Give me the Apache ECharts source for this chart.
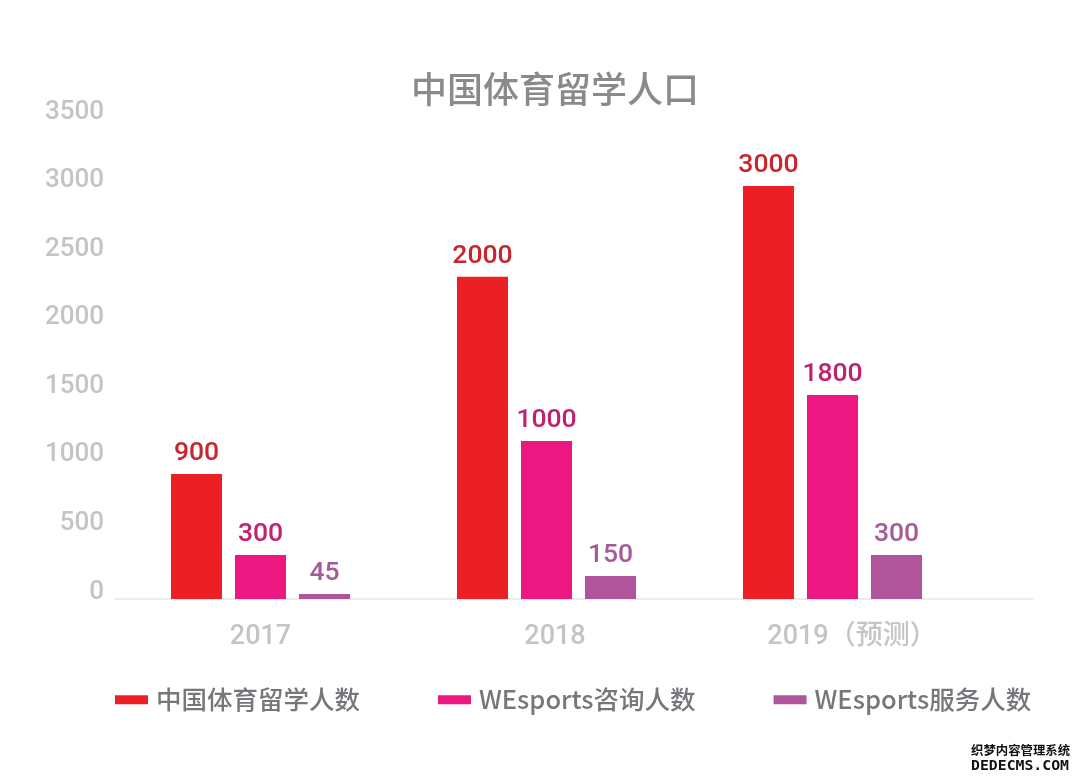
<!DOCTYPE html>
<html>
<head>
<meta charset="utf-8">
<style>html,body{margin:0;padding:0;background:#fff}#main{width:1080px;height:780px}</style>
<script src="https://cdn.jsdelivr.net/npm/echarts@6/dist/echarts.min.js"></script>
</head>
<body>
<div id="main"></div>
<script>
const years = ['2017', '2018', '2019（预测）'];
const yTicks = [0, 500, 1000, 1500, 2000, 2500, 3000, 3500];
const seriesNames = ['中国体育留学人数', 'WEsports咨询人数', 'WEsports服务人数'];

// bar heights as drawn in the picture (they do not always follow the printed numbers)
const studyAbroad = [912, 2349, 3012];
const consult = [321, 1152, 1488];
const service = [36, 168, 321];

// numbers printed above the bars
const studyAbroadLabels = ['900', '2000', '3000'];
const consultLabels = ['300', '1000', '1800'];
const serviceLabels = ['45', '150', '300'];

const numFont = 'Roboto, "Noto Sans CJK SC", sans-serif';
const cjkFont = '"Noto Sans CJK SC", sans-serif';

function barSeries(name, values, labels, color, labelColor) {
  return {
    name: name,
    type: 'bar',
    xAxisIndex: 1,
    yAxisIndex: 1,
    barWidth: 51,
    barGap: '25.5%',
    data: values,
    itemStyle: { color: color },
    label: {
      show: true,
      position: 'top',
      distance: 7,
      color: labelColor,
      fontFamily: numFont,
      fontSize: 26.5,
      fontWeight: 500,
      formatter: function (p) { return labels[p.dataIndex]; }
    }
  };
}

const chart = echarts.init(document.getElementById('main'));
chart.setOption({
  backgroundColor: '#fff',
  animation: false,
  title: {
    text: '中国体育留学人口',
    left: 406,
    top: 66,
    textStyle: { color: '#8a8a8c', fontFamily: cjkFont, fontSize: 36, fontWeight: 500 }
  },
  legend: {
    left: 110,
    top: 682,
    icon: 'rect',
    itemWidth: 33,
    itemHeight: 9,
    itemGap: 78,
    data: seriesNames,
    textStyle: { color: '#77777b', fontFamily: cjkFont, fontSize: 25.5, fontWeight: 500, padding: [0, 0, 0, 3] }
  },
  grid: [
    { left: 115, right: 47, top: 119, bottom: 181 },
    { left: 117.5, right: 104.5, top: 119, bottom: 181 }
  ],
  xAxis: [
    {
      gridIndex: 0,
      type: 'category',
      data: [''],
      axisTick: { show: false },
      axisLabel: { show: false },
      axisLine: { lineStyle: { color: '#e8e8ea', width: 1.5 } }
    },
    {
      gridIndex: 1,
      type: 'category',
      data: [
        years[0],
        { value: years[1], textStyle: { padding: [0, 0, 0, 17] } },
        { value: years[2], textStyle: { padding: [0, 0, 0, 39] } }
      ],
      axisTick: { show: false },
      axisLine: { show: false },
      axisLabel: { margin: 25, color: '#c4c4c6', fontFamily: numFont, fontSize: 27, fontWeight: 500, interval: 0 }
    }
  ],
  yAxis: [
    {
      gridIndex: 0,
      type: 'value',
      min: yTicks[0],
      max: yTicks[yTicks.length - 1],
      interval: yTicks[1] - yTicks[0],
      axisLine: { show: false },
      axisTick: { show: false },
      splitLine: { show: false },
      axisLabel: {
        margin: 11,
        color: '#c4c4c6',
        fontFamily: numFont,
        fontSize: 26,
        fontWeight: 500,
        verticalAlign: 'bottom',
        lineHeight: 14,
        formatter: function (v) { return String(v); }
      }
    },
    {
      gridIndex: 1,
      type: 'value',
      min: yTicks[0],
      max: yTicks[yTicks.length - 1],
      show: false
    }
  ],
  series: [
    barSeries(seriesNames[0], studyAbroad, studyAbroadLabels, '#ec2024', '#c9252d'),
    barSeries(seriesNames[1], consult, consultLabels, '#ec1781', '#c2216f'),
    barSeries(seriesNames[2], service, serviceLabels, '#b0549c', '#a65a98')
  ],
  graphic: [
    {
      type: 'text', left: 971, top: 744,
      style: { text: '织梦内容管理系统', fill: '#111', fontFamily: cjkFont, fontSize: 12.4, fontWeight: 700 }
    },
    {
      type: 'text', left: 971, top: 759,
      style: { text: 'DEDECMS.COM', fill: '#111', fontFamily: '"DejaVu Sans Mono", monospace', fontSize: 14.8, fontWeight: 700 }
    }
  ]
});
</script>
</body>
</html>
